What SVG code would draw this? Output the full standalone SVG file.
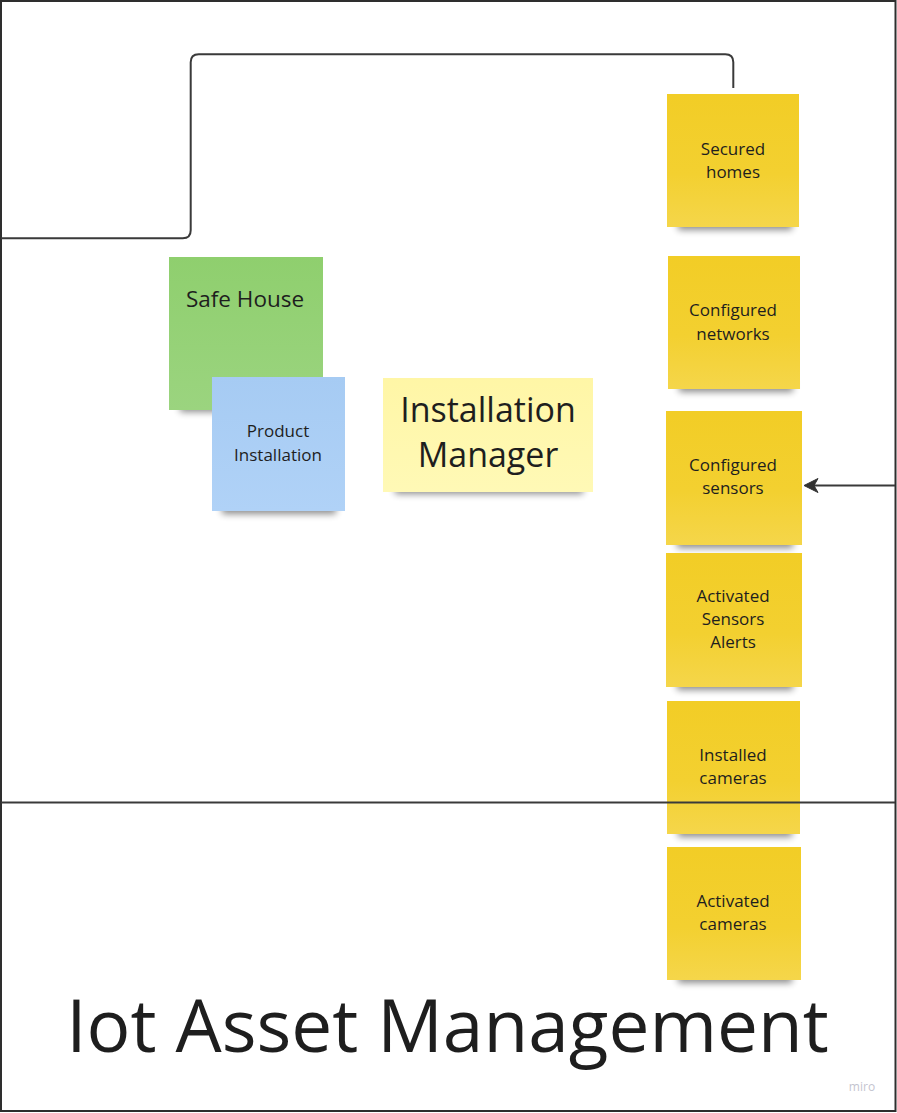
<svg xmlns="http://www.w3.org/2000/svg" width="897" height="1113" viewBox="0 0 897 1113">
<defs>
<style>
.t{font-family:"Open Sans","Noto Sans","Liberation Sans",sans-serif;fill:#1e1e1e;text-anchor:middle}
.s17{font-size:17px}
.line{fill:none;stroke:#3a3a3a;stroke-width:2}
.shadow{fill:#000;opacity:0.45;filter:url(#blur)}
</style>
<filter id="blur" x="-20%" y="-100%" width="140%" height="300%"><feGaussianBlur stdDeviation="3.5"/></filter>
<linearGradient id="gy" x1="0" y1="0" x2="0" y2="1"><stop offset="0" stop-color="#f2cd26"/><stop offset="0.6" stop-color="#f3d030"/><stop offset="1" stop-color="#f5d64a"/></linearGradient>
<linearGradient id="gg" x1="0" y1="0" x2="0" y2="1"><stop offset="0" stop-color="#8fcf6e"/><stop offset="1" stop-color="#9bd47f"/></linearGradient>
<linearGradient id="gb" x1="0" y1="0" x2="0" y2="1"><stop offset="0" stop-color="#a6cbf3"/><stop offset="1" stop-color="#b0d2f7"/></linearGradient>
<linearGradient id="gl" x1="0" y1="0" x2="0" y2="1"><stop offset="0" stop-color="#fff6a6"/><stop offset="1" stop-color="#fff9b6"/></linearGradient>
</defs>
<rect x="0" y="0" width="897" height="1113" fill="#fff"/>
<rect id="frame" x="1" y="1" width="894.5" height="1110" fill="none" stroke="#2e2e2e" stroke-width="2"/>

<g id="safe-house">
<rect class="shadow" x="180" y="398" width="134" height="14"/>
<rect x="169" y="257" width="154" height="153" fill="url(#gg)"/>
<text class="t" x="245" y="307" font-size="22.5">Safe House</text>
</g>
<g id="product-installation">
<rect class="shadow" x="222" y="500" width="114" height="14"/>
<rect x="212" y="377" width="133" height="134" fill="url(#gb)"/>
<text class="t s17" x="278" y="437">Product</text>
<text class="t s17" x="278" y="461">Installation</text>
</g>
<g id="installation-manager">
<rect class="shadow" x="395" y="480" width="188" height="14"/>
<rect x="383" y="378" width="210" height="114" fill="url(#gl)"/>
<text class="t" x="488" y="422" font-size="34">Installation</text>
<text class="t" x="488" y="467" font-size="34">Manager</text>
</g>
<g id="secured-homes">
<rect class="shadow" x="678" y="216" width="114" height="14"/>
<rect x="667" y="94" width="132" height="133" fill="url(#gy)"/>
<text class="t s17" x="733" y="155">Secured</text>
<text class="t s17" x="733" y="178">homes</text>
</g>
<g id="configured-networks">
<rect class="shadow" x="679" y="378" width="114" height="14"/>
<rect x="668" y="256" width="132" height="133" fill="url(#gy)"/>
<text class="t s17" x="733" y="316">Configured</text>
<text class="t s17" x="733" y="340">networks</text>
</g>
<g id="configured-sensors">
<rect class="shadow" x="677" y="534" width="116" height="14"/>
<rect x="666" y="411" width="136" height="134" fill="url(#gy)"/>
<text class="t s17" x="733" y="471">Configured</text>
<text class="t s17" x="733" y="494">sensors</text>
</g>
<g id="activated-sensors-alerts">
<rect class="shadow" x="677" y="676" width="116" height="14"/>
<rect x="666" y="553" width="136" height="134" fill="url(#gy)"/>
<text class="t s17" x="733" y="602">Activated</text>
<text class="t s17" x="733" y="625">Sensors</text>
<text class="t s17" x="733" y="648">Alerts</text>
</g>
<g id="installed-cameras">
<rect class="shadow" x="678" y="823" width="114" height="14"/>
<rect x="667" y="701" width="133" height="133" fill="url(#gy)"/>
<text class="t s17" x="733" y="761">Installed</text>
<text class="t s17" x="733" y="784">cameras</text>
</g>
<g id="activated-cameras">
<rect class="shadow" x="678" y="969" width="114" height="14"/>
<rect x="667" y="847" width="134" height="133" fill="url(#gy)"/>
<text class="t s17" x="733" y="907">Activated</text>
<text class="t s17" x="733" y="930">cameras</text>
</g>

<g id="connectors">
<path class="line" d="M1,238.3 H182.7 Q190.7,238.3 190.7,230.3 V62.3 Q190.7,54.3 198.7,54.3 H725.3 Q733.3,54.3 733.3,62.3 V88"/>
<path class="line" d="M895,485.5 H814"/>
<polygon points="804,485.5 818,478.5 814,485.5 818,492.5" fill="#333" stroke="#333" stroke-width="1" stroke-linejoin="round"/>
<line class="line" x1="1" y1="802.5" x2="895" y2="802.5"/>
</g>

<g id="title">
<text class="t" x="447.5" y="1052" font-size="73" fill="#1a1a1a">Iot Asset Management</text>
</g>
<text x="862" y="1091" font-family="'Open Sans','Liberation Sans',sans-serif" font-size="12" fill="#c4c4cf" text-anchor="middle">miro</text>
</svg>
